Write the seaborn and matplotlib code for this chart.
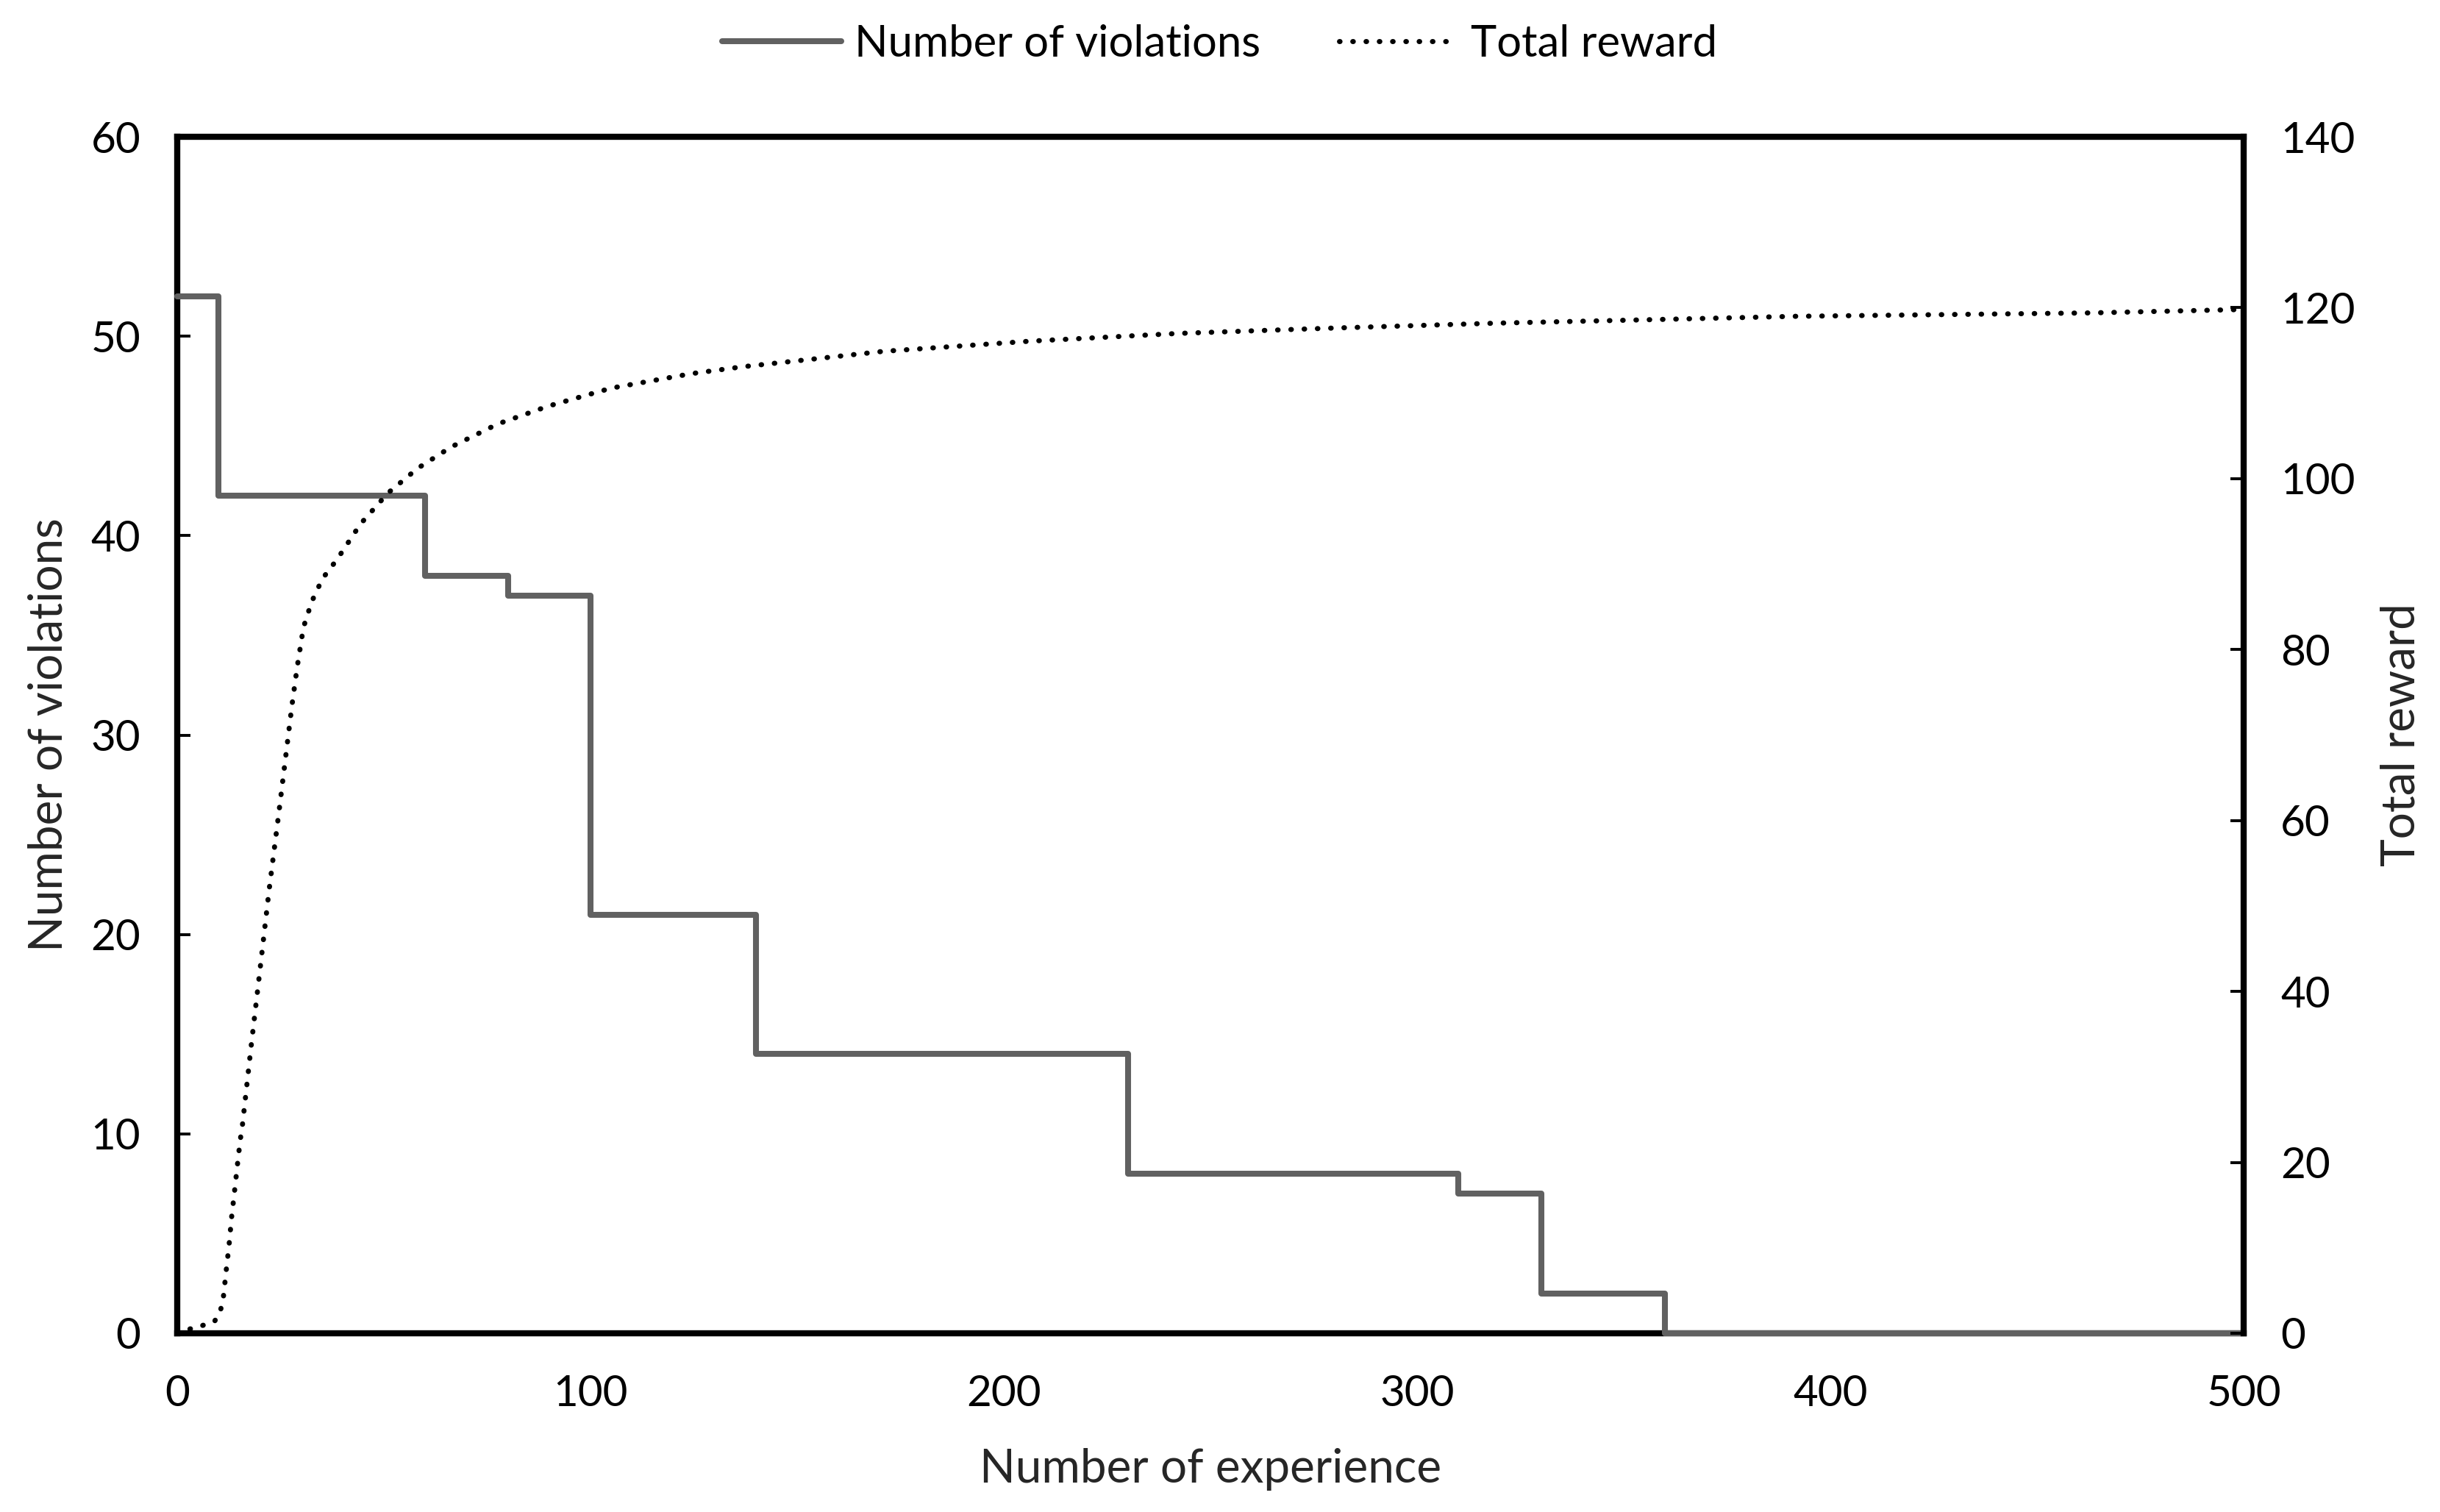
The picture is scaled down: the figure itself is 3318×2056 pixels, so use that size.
import pandas as pd
import seaborn as sns
import matplotlib.pyplot as plt

# --- datos ---
# numero de violaciones (escalonado)
exp_steps = [0, 10, 60, 80, 100, 140, 230, 310, 330, 360, 500]
violations = [52, 42, 38, 37, 21, 14, 8, 7, 2, 0, 0]

# recompensa total (curva punteada)
reward_x = [0, 3, 6, 9, 10.4, 11.1, 11.8, 12.5, 13.1, 13.8, 14.5, 15.2, 15.7,
            17.8, 20, 22.2, 24.6, 27.7, 29, 30.5, 32.5, 35.1, 38.7, 44.3, 50.9,
            58.1, 66.2, 77.5, 89.8, 105, 124.5, 136.8, 152, 170.8, 206.6, 242.3,
            278.1, 319.2, 355.9, 391.6, 427.4, 463.1, 500]
reward_y = [0, 0.5, 0.9, 1.4, 2.6, 4.1, 7.3, 10.3, 13.5, 16.5, 19.6, 22.6, 24.2,
            33.4, 42.6, 51.9, 61.1, 73.4, 78, 82.6, 85.6, 88.3, 90.6, 94.7, 98.3,
            101.2, 103.7, 106.4, 108.5, 110.6, 112.3, 113.1, 113.9, 114.9, 116.1, 117.0,
            117.6, 118.2, 118.6, 119.0, 119.2, 119.4, 119.8]

sns.set_style("white")
plt.rcParams['font.family'] = ['Lato', 'DejaVu Sans']
plt.rcParams['text.color'] = 'black'

df_v = pd.DataFrame({'exp': exp_steps, 'viol': violations})
df_r = pd.DataFrame({'exp': reward_x, 'reward': reward_y})

fig, ax = plt.subplots(figsize=(16.59, 10.28), dpi=200)
fig.subplots_adjust(left=0.0727, right=0.9196, top=0.9095, bottom=0.1182)

sns.lineplot(data=df_v, x='exp', y='viol', ax=ax, drawstyle='steps-post',
             color='#616161', linewidth=2.9, zorder=3, clip_on=False, legend=False)
ax2 = ax.twinx()
sns.lineplot(data=df_r, x='exp', y='reward', ax=ax2, color='black',
             linewidth=2.5, linestyle=':', legend=False)
line_v = ax.lines[0]
line_v.set_linewidth(2.9)
line_r = ax2.lines[0]
line_r.set_linewidth(2.5)
line_r.set_dashes((0.1, 2.5))
line_r.set_dash_capstyle('round')

ax.set_xlim(0, 500)
ax.set_ylim(0, 60)
ax2.set_ylim(0, 140)
ax.set_xticks(range(0, 501, 100))
ax.set_yticks(range(0, 61, 10))
ax2.set_yticks(range(0, 141, 20))

# marco
for s in ['left', 'bottom', 'top']:
    ax.spines[s].set_color('black')
    ax.spines[s].set_linewidth(3.0)
ax.spines['right'].set_visible(False)
for s in ['left', 'bottom', 'top']:
    ax2.spines[s].set_visible(False)
ax2.spines['right'].set_color('black')
ax2.spines['right'].set_linewidth(3.0)

ax.tick_params(axis='both', direction='in', length=6.5, width=1.4,
               labelsize=21, pad=18, colors='black')
ax.tick_params(axis='x', pad=20)
ax2.tick_params(axis='y', direction='in', length=6.5, width=1.4,
                labelsize=21, pad=18, colors='black')

ax.set_xlabel('Number of experience', fontsize=23, labelpad=17)
ax.set_ylabel('Number of violations', fontsize=23, labelpad=10)
ax2.set_ylabel('Total reward', fontsize=23, labelpad=12)

fig.legend([line_v, line_r], ['Number of violations', 'Total reward'],
           loc='center', bbox_to_anchor=(0.5, 0.971), ncol=2, frameon=False,
           fontsize=21.5, handlelength=2.7, handletextpad=0.3, columnspacing=1.8)

plt.savefig('out.png', dpi=200)
plt.close()
